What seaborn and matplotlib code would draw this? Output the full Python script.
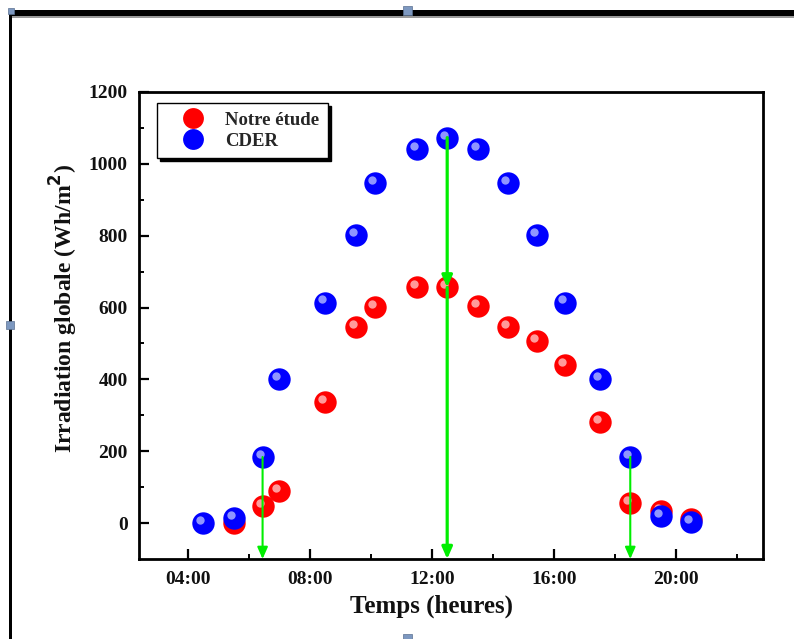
import numpy as np
import pandas as pd
import matplotlib
matplotlib.use("Agg")
import matplotlib.pyplot as plt
import matplotlib.transforms as mtransforms
from matplotlib.patches import Rectangle
from matplotlib.lines import Line2D
from matplotlib.ticker import FixedLocator
import seaborn as sns

# Heures de mesure (décimales) et irradiation globale (Wh/m²)
hours_etude = [5.5, 6.45, 7.0, 8.5, 9.5, 10.15, 11.5, 12.5, 13.5, 14.5,
               15.45, 16.35, 17.5, 18.5, 19.5, 20.5]
irr_etude = [0, 47, 89, 338, 547, 601, 656, 656, 603, 547,
             506, 439, 282, 56, 34, 11]

hours_cder = [4.5, 5.5, 6.45, 7.0, 8.5, 9.5, 10.15, 11.5, 12.5, 13.5,
              14.5, 15.45, 16.35, 17.5, 18.5, 19.5, 20.5]
irr_cder = [0, 14, 184, 402, 614, 802, 947, 1042, 1073, 1042,
            947, 802, 614, 402, 184, 20, 3]

series_names = ["Notre étude", "CDER"]
x_ticks = [4, 8, 12, 16, 20]
x_tick_labels = ["04:00", "08:00", "12:00", "16:00", "20:00"]
y_ticks = [0, 200, 400, 600, 800, 1000, 1200]

# Lignes verticales fléchées (heure, irradiation de départ, irradiation d'arrivée)
arrow_hours = [6.45, 12.5, 12.5, 18.5]
arrow_start = [184, 1073, 656, 184]
arrow_end = [-100, 656, -100, -100]
arrow_widths = [1.5, 2.3, 2.3, 1.5]

series_data = {
    series_names[0]: pd.DataFrame({"heure": hours_etude, "irr": irr_etude}),
    series_names[1]: pd.DataFrame({"heure": hours_cder, "irr": irr_cder}),
}

RED = "#ff0000"
BLUE = "#0000ff"
GREEN = "#00ee00"
palette = {series_names[0]: RED, series_names[1]: BLUE}
shine = {series_names[0]: "#ffd0d0", series_names[1]: "#c0c8ff"}

sns.set_theme(style="white")
plt.rcParams["font.family"] = ["Liberation Serif", "DejaVu Serif"]
plt.rcParams["font.weight"] = "bold"

W, H = 794, 639
fig = plt.figure(figsize=(W / 100, H / 100), dpi=100)
fig.patch.set_facecolor("white")
ax = fig.add_axes([139 / W, 1 - 559 / H, 624 / W, 467 / H])

# Sphères : disque plein puis reflet décalé vers le haut à gauche
glint = ax.transData + mtransforms.ScaledTranslation(-2.2 / 72, 2.2 / 72, fig.dpi_scale_trans)
for i, name in enumerate(series_names):
    d = series_data[name]
    sns.scatterplot(data=d, x="heure", y="irr", color=palette[name], s=260,
                    linewidth=0, ax=ax, legend=False, zorder=3 + 2 * i)
    sns.scatterplot(data=d, x="heure", y="irr", color=shine[name], s=36,
                    linewidth=0, ax=ax, legend=False, zorder=4 + 2 * i, alpha=0.75)
    ax.collections[-1].set_offset_transform(glint)

for h, y0, y1, lw in zip(arrow_hours, arrow_start, arrow_end, arrow_widths):
    ax.annotate("", xy=(h, y1), xytext=(h, y0),
                arrowprops=dict(arrowstyle="-|>,head_length=0.5,head_width=0.22",
                                color=GREEN, lw=lw,
                                mutation_scale=14, shrinkA=0, shrinkB=0),
                zorder=8, annotation_clip=False)

ax.set_xlim(2.4, 22.85)
ax.set_ylim(-100, 1200)
ax.xaxis.set_major_locator(FixedLocator(x_ticks))
ax.set_xticklabels(x_tick_labels)
ax.xaxis.set_minor_locator(FixedLocator([6, 10, 14, 18, 22]))
ax.yaxis.set_major_locator(FixedLocator(y_ticks))
ax.yaxis.set_minor_locator(FixedLocator([100, 300, 500, 700, 900, 1100]))

for s in ax.spines.values():
    s.set_color("black")
    s.set_linewidth(2.0)
ax.tick_params(which="both", direction="in", color="black", bottom=True, left=True,
               top=False, right=False)
ax.tick_params(which="major", length=7, width=1.6, labelsize=14)
ax.tick_params(which="minor", length=3.5, width=1.4)
ax.tick_params(axis="x", which="major", pad=9)
ax.tick_params(axis="y", which="major", pad=8)
for lab in ax.get_xticklabels() + ax.get_yticklabels():
    lab.set_fontweight("bold")
    lab.set_color("#111111")

ax.set_xlabel("Temps (heures)", fontsize=18, fontweight="bold", color="#111111")
ax.set_ylabel("Irradiation globale (Wh/m$^{\\mathbf{2}}$)", fontsize=17,
              fontweight="bold", color="#111111")
ax.xaxis.set_label_coords((432 - 139) / 624, -(595 - 559) / 467)
ax.yaxis.set_label_coords((80 - 139) / 624, 1 - (308 - 92) / 467)

handles = [Line2D([], [], marker="o", linestyle="none", markersize=15,
                  markerfacecolor=palette[n], markeredgewidth=0) for n in series_names]
leg = ax.legend(handles, series_names, loc="upper left",
                bbox_to_anchor=((157 - 139) / 624, 1 - (103 - 92) / 467),
                borderaxespad=0, frameon=True, fancybox=False,
                shadow={"color": "black", "alpha": 1.0},
                prop={"family": "Liberation Serif", "weight": "bold", "size": 13.5},
                handletextpad=0.3, labelspacing=0.22, borderpad=0.45,
                handlelength=2.9, edgecolor="black")
leg.get_frame().set_linewidth(1.0)
leg.set_zorder(9)

# Cadre du document et poignées de sélection
fig.add_artist(Rectangle((10 / W, 1 - 16 / H), (W - 10) / W, 6 / H,
                         transform=fig.transFigure, color="black", lw=0))
fig.add_artist(Rectangle((10 / W, 1 - 18 / H), (W - 10) / W, 2 / H,
                         transform=fig.transFigure, color="#999999", lw=0))
fig.add_artist(Rectangle((9 / W, 0), 3 / W, 1 - 10 / H,
                         transform=fig.transFigure, color="black", lw=0))
for cx, cy, sz in [(407, 10, 9), (10, 325, 8), (407, 638, 9), (11, 11, 6)]:
    fig.add_artist(Rectangle(((cx - sz / 2) / W, 1 - (cy + sz / 2) / H), sz / W, sz / H,
                             transform=fig.transFigure, facecolor="#7d98c0",
                             edgecolor="#5a7090", lw=0.5))

fig.savefig("out.png", dpi=100)
